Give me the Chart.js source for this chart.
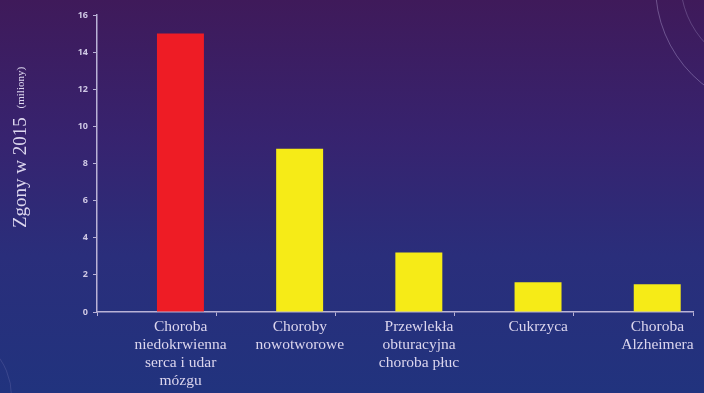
<!DOCTYPE html>
<html>
<head>
<meta charset="utf-8">
<script src="https://cdn.jsdelivr.net/npm/chart.js@4.4.1/dist/chart.umd.min.js"></script>
<style>
  html, body { margin: 0; padding: 0; }
  body { width: 704px; height: 393px; overflow: hidden; position: relative;
    background: linear-gradient(180deg, #3f1a5a 0%, #37236f 35%, #2a2e7b 65%, #21337e 100%); }
  #wrap { position: absolute; left: 0; top: 0; width: 704px; height: 393px; }
  .ring { position: absolute; border-radius: 50%; border: 1px solid rgba(200,190,235,0.35); }
</style>
</head>
<body>
<div class="ring" style="left:655px; top:-140px; width:250px; height:250px;"></div>
<div class="ring" style="left:680px; top:-110px; width:180px; height:180px; border-color: rgba(200,190,235,0.25);"></div>
<div class="ring" style="left:-120px; top:330px; width:130px; height:130px; border-color: rgba(200,190,235,0.15);"></div>
<div id="wrap"><canvas id="c" width="704" height="393"></canvas></div>
<script>
const categories = [
  ["Choroba", "niedokrwienna", "serca i udar", "mózgu"],
  ["Choroby", "nowotworowe"],
  ["Przewlekła", "obturacyjna", "choroba płuc"],
  ["Cukrzyca"],
  ["Choroba", "Alzheimera"]
];
const deaths = [15.0, 8.8, 3.2, 1.6, 1.5];
const placeholder = [null, null, null, null, null];
const barColors = ["#ee1c25", "#f6eb17", "#f6eb17", "#f6eb17", "#f6eb17"];
const yTicks = [0, 2, 4, 6, 8, 10, 12, 14, 16];
const yTitle = "Zgony w 2015";
const yUnit = "(miliony)";

const axisColor = "#b9b2d6";
const textColor = "#dcd6ee";

const titlePlugin = {
  id: 'ytitle',
  afterDraw(chart) {
    const ctx = chart.ctx;
    ctx.save();
    ctx.fillStyle = textColor;
    ctx.textBaseline = 'alphabetic';
    ctx.textAlign = 'left';
    ctx.translate(26, 228);
    ctx.rotate(-Math.PI / 2);
    ctx.font = '19px "Liberation Serif", serif';
    ctx.fillText(yTitle, 0, 0);
    const w = ctx.measureText(yTitle + ' ').width;
    ctx.font = '11px "Liberation Serif", serif';
    ctx.fillText(yUnit, w + 4, -2);
    ctx.restore();
  }
};

new Chart(document.getElementById('c'), {
  type: 'bar',
  data: {
    labels: categories,
    datasets: [
      { data: placeholder, backgroundColor: 'rgba(0,0,0,0)' },
      { data: deaths, backgroundColor: barColors, borderWidth: 0 }
    ]
  },
  options: {
    responsive: false,
    animation: false,
    devicePixelRatio: 1,
    categoryPercentage: 0.8,
    barPercentage: 0.985,
    layout: { padding: { left: 0, right: 11, top: 15, bottom: 0 } },
    plugins: { legend: { display: false }, tooltip: { enabled: false }, title: { display: false } },
    scales: {
      x: {
        type: 'category',
        offset: true,
        afterFit(s) { s.height = 81; },
        border: { display: true, color: axisColor, width: 1.5 },
        grid: { display: true, offset: true, drawOnChartArea: false, drawTicks: true, tickLength: 4, color: axisColor },
        ticks: {
          color: textColor,
          labelOffset: 24,
          padding: 2,
          maxRotation: 0,
          autoSkip: false,
          font: { family: '"Liberation Serif", serif', size: 15.5, lineHeight: 1.16 }
        }
      },
      y: {
        min: 0, max: 16,
        afterFit(s) { s.width = 97; },
        afterBuildTicks(s) { s.ticks = yTicks.map(v => ({ value: v })); },
        border: { display: true, color: axisColor, width: 1.5 },
        grid: { display: true, drawOnChartArea: false, drawTicks: true, tickLength: 4, color: axisColor },
        ticks: {
          color: "#cfc8e4",
          padding: 5,
          font: { family: '"Open Sans", sans-serif', size: 9, weight: 'bold' }
        }
      }
    }
  },
  plugins: [titlePlugin]
});
</script>
</body>
</html>
